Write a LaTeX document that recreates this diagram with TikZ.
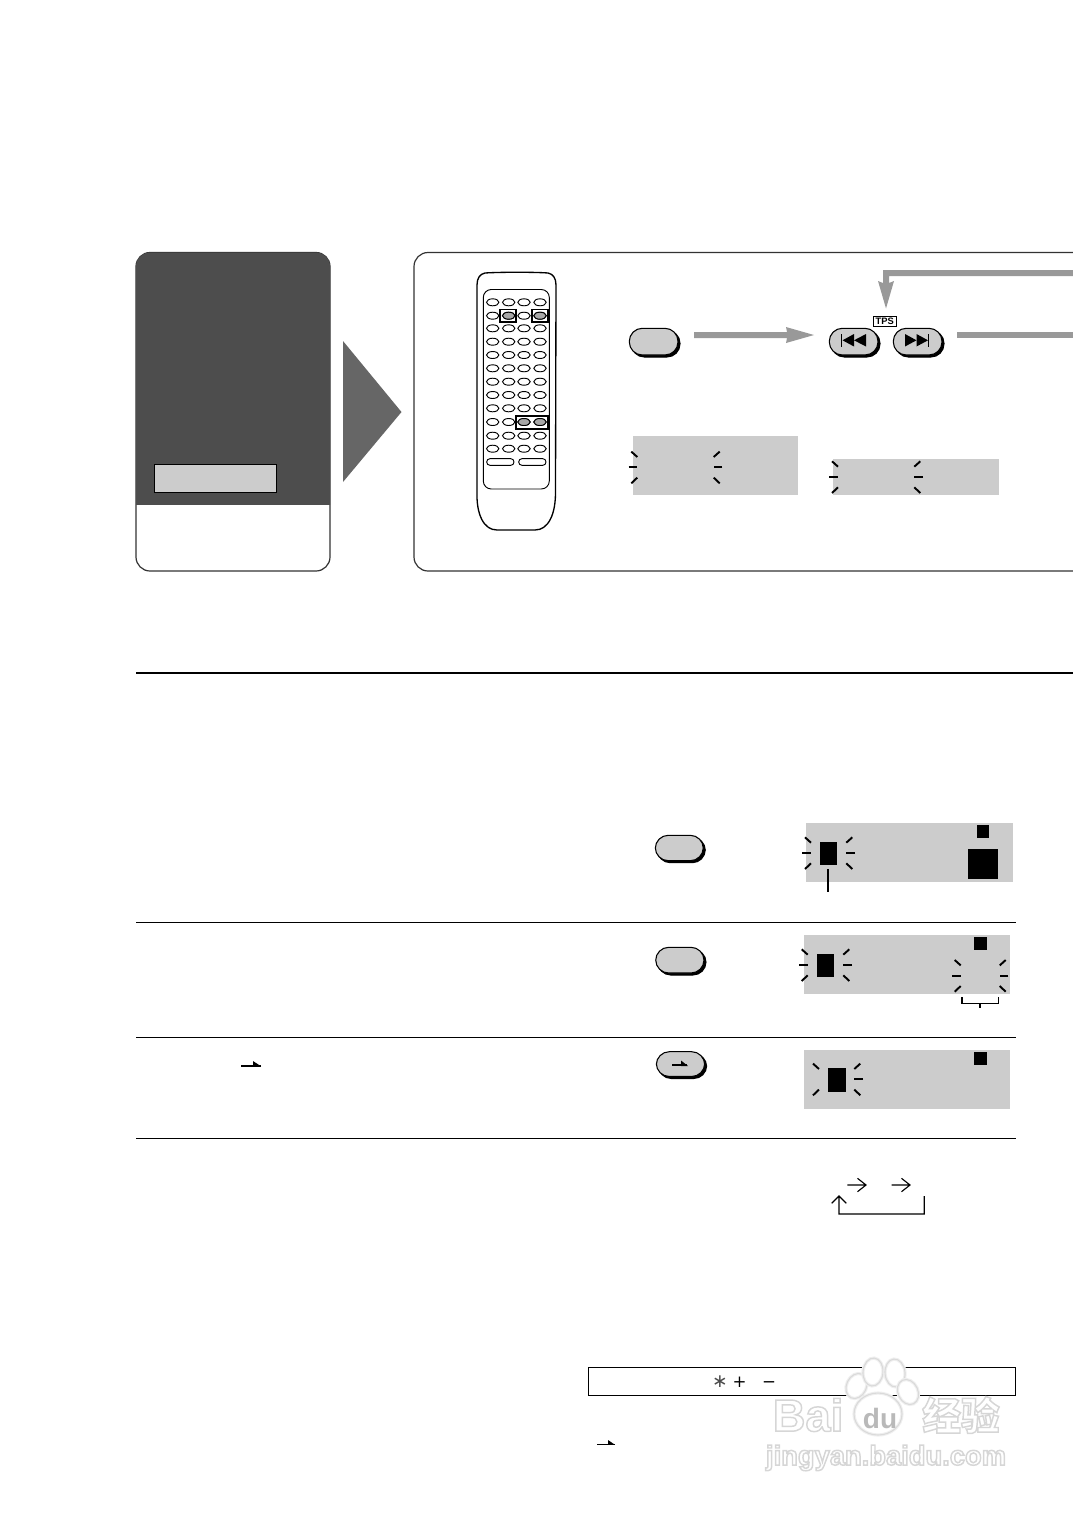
\documentclass[tikz,border=0pt]{standalone}
\usepackage{fontspec}
\setmainfont{Liberation Sans}
\newfontfamily\cjkwm{Noto Sans CJK SC}
\newfontfamily\djv{DejaVu Sans}
\usetikzlibrary{calc}
\definecolor{lcd}{HTML}{CCCCCC}
\definecolor{arrowgray}{HTML}{999999}
\definecolor{darkp}{HTML}{4D4D4D}
\definecolor{tri}{HTML}{666666}
\definecolor{rmgray}{HTML}{A8A8A8}
\definecolor{wm}{HTML}{DADADA}
\definecolor{wmsoft}{HTML}{EFEFEF}
\tikzset{
  px/.style={x=0.75pt,y=-0.75pt},
  ray/.style={line width=1.45pt,line cap=butt,black},
  panelline/.style={draw=black!80,line width=0.9pt},
  barrow/.style={fill=arrowgray,draw=none},
  rule/.style={draw=black,line width=0.75pt},
  ruleheavy/.style={draw=black,line width=1.15pt},
  openarrow/.style={draw=black,line width=0.85pt,line join=miter},
  solid block/.style={fill=black,draw=none},
  keybtn/.style={draw=black,line width=0.8pt,fill=lcd},
  keyshadow/.style={fill=black,draw=black,line width=0.8pt},
  rmbtn/.style={draw=black,line width=0.7pt,fill=white},
  rmsel/.style={draw=black,line width=0.7pt,fill=rmgray},
  rmbox/.style={draw=black,line width=1.2pt},
  symb/.style={inner sep=0pt},
  wmnode/.style={inner sep=0pt,text=white}
}
\newcommand{\wmout}[1]{\special{pdf:code 2 Tr 1.1 w 0.84 G}#1\special{pdf:code 0 Tr}}
\newcommand{\raysL}[3][1]{%
  \draw[ray] ($(#2,#3)+(-6,-15.7)$) -- ($(#2,#3)+(0,-10.3)$);
  \ifnum#1=1 \draw[ray] ($(#2,#3)+(-8.7,0)$) -- (#2,#3);\fi
  \draw[ray] ($(#2,#3)+(-6,16)$) -- ($(#2,#3)+(0,10.3)$);}
\newcommand{\raysR}[2]{%
  \draw[ray] ($(#1,#2)+(6,-15.7)$) -- ($(#1,#2)+(0,-10.3)$);
  \draw[ray] ($(#1,#2)+(8.7,0)$) -- (#1,#2);
  \draw[ray] ($(#1,#2)+(6,16)$) -- ($(#1,#2)+(0,10.3)$);}
\newcommand{\keybutton}[4]{%
  \draw[keyshadow,rounded corners=9.8pt] (#1+2,#2+2) rectangle (#3+2,#4+2);
  \draw[keybtn,rounded corners=9.8pt] (#1,#2) rectangle (#3,#4);}
\begin{document}
\begin{tikzpicture}[px]
\useasboundingbox (0,0) rectangle (1073,1517);
% left panel
\draw[panelline,fill=white,rounded corners=10.5pt] (136,252.5) rectangle (330,571);
\begin{scope}
\clip (130,245) rectangle (336,504.8);
\fill[darkp,rounded corners=10.5pt] (136,252.5) rectangle (330,571);
\end{scope}
\draw[fill=lcd,draw=black,line width=0.75pt] (154.5,464.5) rectangle (276.5,492.5);
\fill[tri] (343,341) -- (401.5,412) -- (343,482) -- cycle;
% right panel
\draw[panelline,rounded corners=10.5pt] (1090,252.5) -- (414,252.5) -- (414,571) -- (1090,571);
% remote
\draw[line width=1pt] (485,273) .. controls (500,272) and (535,272) .. (548,273) .. controls (553,274) and (556,278) .. (556,285) -- (555.5,490) .. controls (556,515) and (548,530) .. (535,530) -- (497,530) .. controls (484,530) and (476,515) .. (477,490) -- (477,285) .. controls (477,278) and (480,274) .. (485,273) -- cycle;
\draw[line width=0.7pt,rounded corners=6pt] (483.3,289.5) rectangle (549.3,489);
\foreach \ry in {302.3,315.7,328.3,341.7,355,368.3,381.7,395,408.3,422,435.7,448.7}
  \foreach \rx in {492.7,508.7,524,540}
    \draw[rmbtn] (\rx,\ry) ellipse [x radius=6.2,y radius=3.5];
\draw[rmsel] (508.7,315.7) ellipse [x radius=6.2,y radius=3.5];
\draw[rmsel] (540,315.7) ellipse [x radius=6.2,y radius=3.5];
\draw[rmsel] (524,422) ellipse [x radius=6.2,y radius=3.5];
\draw[rmsel] (540,422) ellipse [x radius=6.2,y radius=3.5];
\draw[rmbtn,rounded corners=2.4pt] (486.7,458.7) rectangle (514,465.3);
\draw[rmbtn,rounded corners=2.4pt] (518.7,458.7) rectangle (546,465.3);
\draw[rmbox] (500,309.3) rectangle (516,321.7);
\draw[rmbox] (532,309.3) rectangle (547.7,321.7);
\draw[rmbox] (515.7,415.7) rectangle (548,428.7);
% top buttons
\keybutton{629.3}{328.3}{678}{355}
\keybutton{829.3}{328.3}{878}{355}
\keybutton{893.3}{328.3}{942}{355}
\fill (841,334) rectangle (842.4,346.5);
\fill (842.5,340.3) -- (854,334) -- (854,346.5) -- cycle;
\fill (854,340.3) -- (866,334) -- (866,346.5) -- cycle;
\fill (905,334) -- (916.5,340.3) -- (905,346.5) -- cycle;
\fill (916.5,334) -- (928,340.3) -- (916.5,346.5) -- cycle;
\fill (928,334) rectangle (929.4,346.5);
% gray arrows
\fill[barrow] (694,332) -- (787,332) -- (786,327) -- (814,335) -- (786,343) -- (787,338) -- (694,338) -- cycle;
\fill[barrow] (957,332) rectangle (1073,338);
\fill[barrow] (1073,270) -- (883,270) -- (883,283) -- (878,281) -- (886,308.5) -- (894,281) -- (889,283) -- (889,276) -- (1073,276) -- cycle;
% TPS
\node[draw=black,line width=0.6pt,fill=white,minimum width=16.8pt,minimum height=7.5pt,inner sep=0pt,font=\bfseries\fontsize{7pt}{7pt}\selectfont] (tps) at (884.7,321.7) {TPS};
% LCD top
\fill[lcd] (633,435.7) rectangle (798.3,494.7);
\raysL{637.3}{467.3}
\raysR{713.7}{467.3}
\fill[lcd] (832.7,459) rectangle (999,494.7);
\raysL{838}{477}
\raysR{914.3}{477}
% rules
\draw[ruleheavy] (136,673) -- (1073,673);
\draw[rule] (136,922.5) -- (1016,922.5);
\draw[rule] (136,1037.5) -- (1016,1037.5);
\draw[rule] (136,1138.5) -- (1016,1138.5);
% step buttons
\keybutton{655.3}{835.3}{703.3}{860.7}
\keybutton{655.7}{947.3}{704}{973}
\keybutton{656.3}{1051.7}{704.7}{1076.5}
\draw[line width=1.2pt] (672.3,1065) -- (686.7,1065);
\fill (681,1060.5) -- (688,1066) -- (681,1066) -- cycle;
% LCD A
\fill[lcd] (806.3,823) rectangle (1013,882);
\fill[solid block] (819.7,841.7) rectangle (837,865);
\fill[solid block] (977,825.3) rectangle (989.3,838);
\fill[solid block] (968.3,849) rectangle (998,878.7);
\raysL{811}{853}
\raysR{846.3}{853}
\draw[line width=1.2pt] (827.7,869) -- (827.7,891.7);
% LCD B
\fill[lcd] (803.7,935.3) rectangle (1010.3,994);
\fill[solid block] (816.7,953.7) rectangle (834.3,977.3);
\fill[solid block] (974,937.3) rectangle (986.7,950);
\raysL{807.7}{965}
\raysR{843.3}{965}
\raysL{960.7}{975.7}
\raysR{999.7}{975.7}
\draw[line width=1pt] (962,997.3) -- (962,1003.3) -- (998.3,1003.3) -- (998.3,997.3);
\draw[line width=1pt] (980,1003.3) -- (980,1008);
% LCD C
\fill[lcd] (804,1050) rectangle (1010.3,1108.7);
\fill[solid block] (828,1068.3) rectangle (845.7,1092);
\fill[solid block] (974.3,1052) rectangle (987,1064.7);
\raysL[0]{819}{1079.3}
\raysR{854.3}{1079.3}
% small inline arrows
\draw[line width=1pt] (241,1066) -- (260.5,1066);
\fill (253,1061) -- (261,1066.3) -- (253,1066.3) -- cycle;
\draw[line width=1pt] (597.3,1444.5) -- (614.7,1444.5);
\fill (608,1440) -- (615,1444.8) -- (608,1444.8) -- cycle;
% cycle
\coordinate (c1a) at (847.3,1185); \coordinate (c1b) at (866,1185);
\coordinate (c2a) at (891.7,1185); \coordinate (c2b) at (910,1185);
\draw[openarrow] (c1a) -- (c1b) (857.5,1178.3) -- (c1b) -- (857.5,1191.7);
\draw[openarrow] (c2a) -- (c2b) (901.5,1178.3) -- (c2b) -- (901.5,1191.7);
\draw[openarrow] (924.3,1196) -- (924.3,1214) -- (839,1214) -- (839,1196) (831.7,1203.3) -- (839,1196) -- (846.3,1203.3);
% note box
\draw[draw=black,line width=0.75pt] (588.3,1367.3) rectangle (1015.7,1395.3);
\node[symb,font=\djv\fontsize{14pt}{14pt}\selectfont,text=black!70] (sa) at (720,1382) {∗};
\node[symb,font=\djv\fontsize{12.5pt}{12.5pt}\selectfont] (sp) at (739.7,1382.5) {+};
\node[symb,font=\djv\fontsize{12.5pt}{12.5pt}\selectfont] (sm) at (769,1384.5) {−};
% watermark, over the box
\foreach \cx/\cy/\rx/\ry/\rot in {856.5/1386/10/13/-25,873/1372/10/14/-5,895/1373/10/14/5,908/1392/10/13/25}{
  \draw[wmsoft,line width=2.4pt,fill=white,rotate around={\rot:(\cx,\cy)}] (\cx,\cy) ellipse [x radius=\rx,y radius=\ry];
  \draw[wm,line width=0.8pt,rotate around={\rot:(\cx,\cy)}] (\cx,\cy) ellipse [x radius=\rx,y radius=\ry];
}
\draw[wmsoft,line width=2.4pt,fill=white] (878,1414) ellipse [x radius=24,y radius=21];
\draw[wm,line width=0.8pt] (878,1414) ellipse [x radius=24,y radius=21];
\node[wmnode,font=\bfseries\fontsize{34pt}{34pt}\selectfont] (wmb) at (808,1415) {\wmout{Bai}};
\node[inner sep=0pt,text=wm!85!black,font=\bfseries\fontsize{21pt}{21pt}\selectfont] (wmd) at (880,1418) {du};
\node[wmnode,font=\cjkwm\bfseries\fontsize{29pt}{29pt}\selectfont] (wmc) at (961,1415) {\wmout{经验}};
\node[wmnode,font=\bfseries\fontsize{20.5pt}{20.5pt}\selectfont] (wmu) at (886,1458) {\wmout{jingyan.baidu.com}};
\end{tikzpicture}
\end{document}
